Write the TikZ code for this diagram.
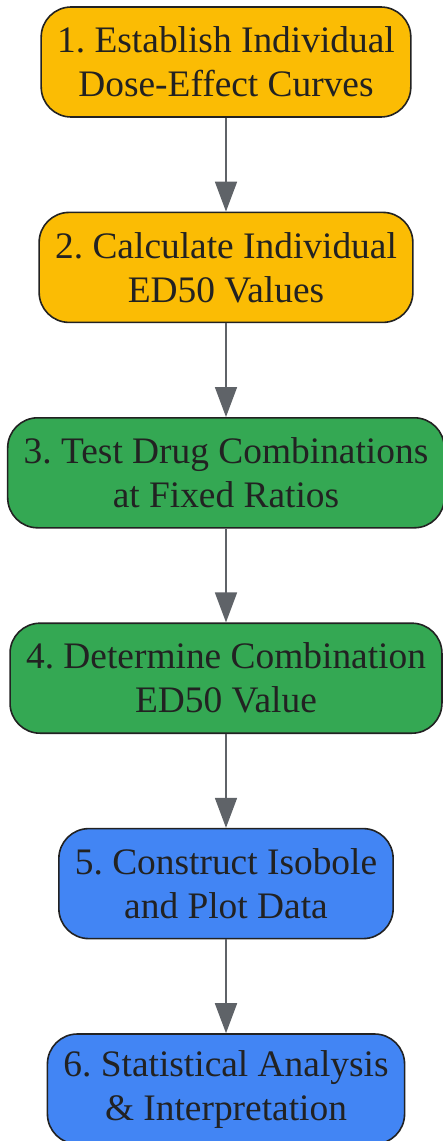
\documentclass[tikz,border=0pt]{standalone}
\usepackage{fontspec}
\setmainfont{Liberation Serif}
\usetikzlibrary{positioning,arrows.meta}

\definecolor{stepyellow}{HTML}{FBBC04}
\definecolor{stepgreen}{HTML}{34A853}
\definecolor{stepblue}{HTML}{4285F4}
\definecolor{edgegray}{HTML}{5F6368}
\definecolor{inkdark}{HTML}{222222}

\tikzset{
  stepbox/.style={draw=inkdark, line width=1.6pt, rounded corners=30pt,
    minimum height=110pt, inner xsep=16pt, align=center, text=inkdark,
    font=\fontsize{37.4}{44}\selectfont\frenchspacing,
    execute at begin node={\rule{0pt}{39pt}}},
  flow/.style={draw=edgegray, line width=1.8pt,
    -{Triangle[length=30pt, width=22pt]}}
}

\begin{document}
\begin{tikzpicture}[node distance=93.8pt]
  \useasboundingbox (0,0) rectangle (442pt,-1141pt);

  % drug study steps
  \node[stepbox, fill=stepyellow] (est) at (226pt,-62pt)
    {1. Establish Individual\\Dose-Effect Curves};
  \node[stepbox, fill=stepyellow, below=of est] (calc)
    {2. Calculate Individual\\ED50 Values};
  \node[stepbox, fill=stepgreen, below=of calc] (test)
    {3. Test Drug Combinations\\at Fixed Ratios};
  \node[stepbox, fill=stepgreen, below=of test] (det)
    {4. Determine Combination\\ED50 Value};
  \node[stepbox, fill=stepblue, below=of det] (iso)
    {5. Construct Isobole\\and Plot Data};
  \node[stepbox, fill=stepblue, below=of iso] (stat)
    {6. Statistical Analysis\\\& Interpretation};

  % arrows
  \draw[flow] (est) -- (calc);
  \draw[flow] (calc) -- (test);
  \draw[flow] (test) -- (det);
  \draw[flow] (det) -- (iso);
  \draw[flow] (iso) -- (stat);
\end{tikzpicture}
\end{document}
